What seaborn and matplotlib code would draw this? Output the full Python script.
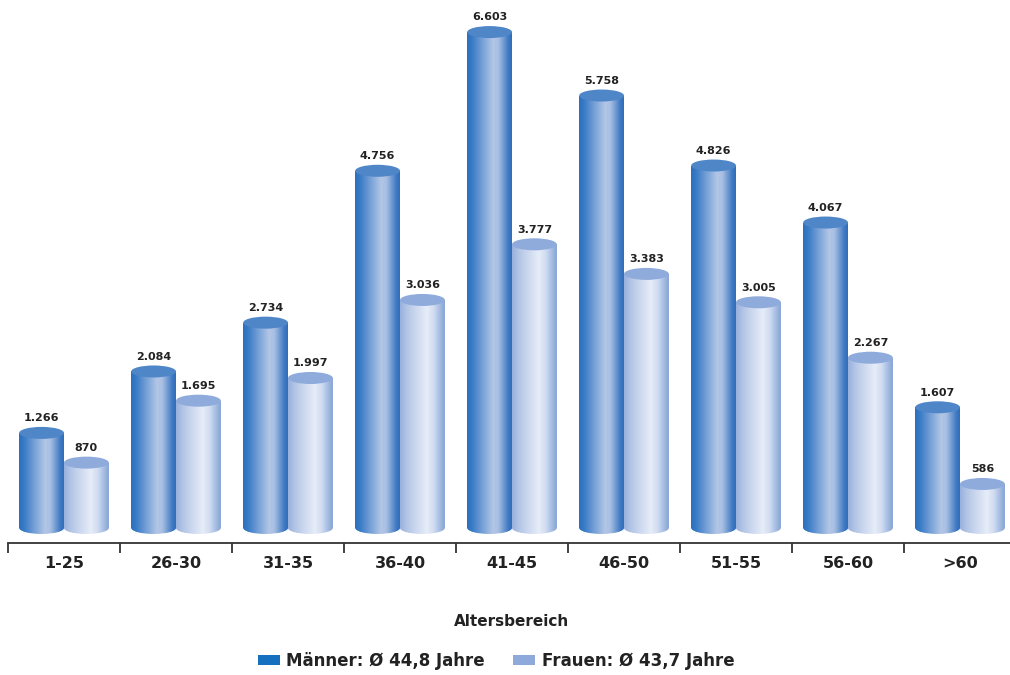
import numpy as np
import pandas as pd
import matplotlib
matplotlib.use("Agg")
import matplotlib.pyplot as plt
import seaborn as sns
from matplotlib.patches import Ellipse, Rectangle, Patch
from matplotlib.colors import to_rgb

# Altersverteilung der Beschäftigten nach Geschlecht
altersbereiche = ["1-25", "26-30", "31-35", "36-40", "41-45", "46-50", "51-55", "56-60", ">60"]
maenner = [1266, 2084, 2734, 4756, 6603, 5758, 4826, 4067, 1607]
frauen = [870, 1695, 1997, 3036, 3777, 3383, 3005, 2267, 586]
serien = ["Männer: Ø 44,8 Jahre", "Frauen: Ø 43,7 Jahre"]

farbe_m = "#1570c0"
farbe_f = "#8eaadb"

df = pd.DataFrame({
    "Altersbereich": altersbereiche * 2,
    "Anzahl": maenner + frauen,
    "Geschlecht": [serien[0]] * len(maenner) + [serien[1]] * len(frauen),
})

sns.set_theme(style="white")
plt.rcParams["font.family"] = ["DejaVu Sans"]
plt.rcParams["font.weight"] = "bold"

W, H = 1010, 675
fig = plt.figure(figsize=(W / 100, H / 100), dpi=100)
ax = fig.add_axes([8 / W, 1 - 543 / H, 1008 / W, 543 / H])

sns.barplot(data=df, x="Altersbereich", y="Anzahl", hue="Geschlecht",
            palette=[farbe_m, farbe_f], saturation=1, width=0.8, ax=ax,
            legend=False, errorbar=None)

ymin, ymax = -200, 7030
ax.set_ylim(ymin, ymax)
ax.set_xlim(-0.5, 8.5)
units_per_px = (ymax - ymin) / 543.0
ell_h = 12 * units_per_px


def gradient(stops, n=256):
    pos = [p for p, _ in stops]
    cols = np.array([to_rgb(c) for _, c in stops])
    xs = np.linspace(0, 1, n)
    rgb = np.stack([np.interp(xs, pos, cols[:, i]) for i in range(3)], axis=-1)
    return rgb[np.newaxis, :, :]


grad_m = gradient([(0.0, "#2a6fbe"), (0.12, "#3b7cc6"), (0.58, "#b3c6e7"),
                   (0.70, "#a9bfe3"), (0.92, "#3f7ac4"), (1.0, "#2d6dbb")])
grad_f = gradient([(0.0, "#98b0dd"), (0.15, "#b3c5e6"), (0.60, "#e7edf8"),
                   (0.76, "#cfdbf0"), (0.95, "#93aedb"), (1.0, "#8aa7d8")])
top_m = "#4f86c8"
top_f = "#8eabdc"

bars = [p for p in ax.patches if isinstance(p, Rectangle) and p.get_height() != 0]
n_cat = len(altersbereiche)
for i, bar in enumerate(bars):
    x0 = bar.get_x()
    w = bar.get_width()
    h = bar.get_height()
    cx = x0 + w / 2
    is_m = i < n_cat
    grad = grad_m if is_m else grad_f
    top = top_m if is_m else top_f
    bar.set_visible(False)

    # cylinder body
    body = ax.imshow(grad, extent=(x0, x0 + w, -ell_h / 2, h), aspect="auto",
                     interpolation="bicubic", zorder=2)
    clip_rect = Rectangle((x0, 0), w, h, transform=ax.transData)
    body.set_clip_path(clip_rect)
    # rounded bottom
    bottom = ax.imshow(grad, extent=(x0, x0 + w, -ell_h / 2, h), aspect="auto",
                       interpolation="bicubic", zorder=2)
    clip_ell = Ellipse((cx, 0), w, ell_h, transform=ax.transData)
    bottom.set_clip_path(clip_ell)
    # top face
    ax.add_patch(Ellipse((cx, h), w, ell_h, facecolor=top, edgecolor="none",
                         zorder=3))
    ax.annotate(f"{h:,.0f}".replace(",", "."), (cx, h), xytext=(0, 7),
                textcoords="offset points", ha="center", va="bottom",
                fontsize=8, fontweight="bold", color="#222222")

ax.set_xlim(-0.5, 8.5)
ax.set_ylim(ymin, ymax)

# axis styling
for side in ["top", "left", "right"]:
    ax.spines[side].set_visible(False)
ax.spines["bottom"].set_color("#333333")
ax.spines["bottom"].set_linewidth(1.3)
ax.set_yticks([])
ax.set_ylabel("")
ax.set_xlabel("")
ax.set_xticks(range(n_cat))
ax.set_xticklabels(altersbereiche, fontsize=11.5, fontweight="bold", color="#222222")
ax.set_xticks(np.arange(-0.5, n_cat + 0.5, 1), minor=True)
ax.tick_params(axis="x", which="major", length=0, pad=9)
ax.tick_params(axis="x", which="minor", length=7.5, width=1.3, color="#333333",
               direction="out", bottom=True)
ax.set_facecolor("white")

fig.text(512 / W, 1 - 621 / H, "Altersbereich", ha="center", va="center",
         fontsize=11, fontweight="bold", color="#222222")

handles = [Patch(facecolor=farbe_m, edgecolor="none"),
           Patch(facecolor=farbe_f, edgecolor="none")]
fig.legend(handles, serien, loc="center", bbox_to_anchor=(496 / W, 1 - 661 / H),
           ncol=2, frameon=False, handlelength=1.3, handleheight=0.6,
           handletextpad=0.4, columnspacing=1.7,
           prop={"size": 12, "weight": "bold"}, labelcolor="#222222")

fig.savefig("out.png", dpi=100, facecolor="white")
